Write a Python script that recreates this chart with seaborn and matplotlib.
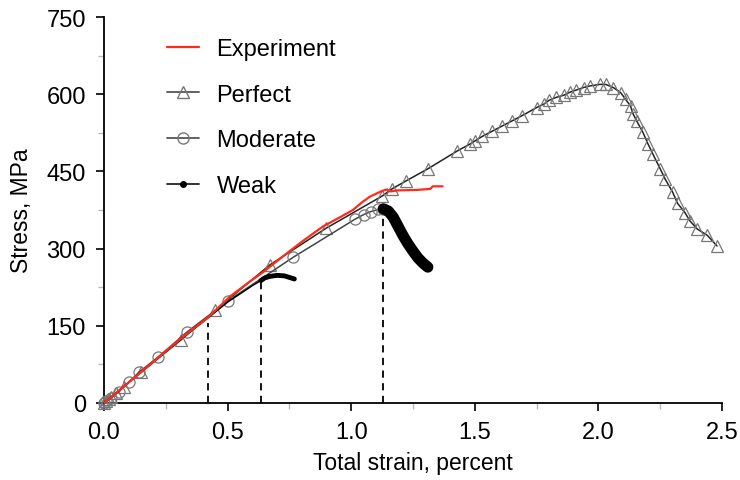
import matplotlib
matplotlib.use('Agg')
import matplotlib.pyplot as plt
import seaborn as sns
from matplotlib.ticker import MultipleLocator, FormatStrFormatter
from matplotlib.lines import Line2D

# experiment (red)
exp_x = [0, 0.05, 0.1, 0.2, 0.3, 0.42, 0.51, 0.59, 0.643, 0.724, 0.805, 0.886, 0.955, 1.007,
         1.044, 1.076, 1.125, 1.145, 1.157, 1.185, 1.266, 1.32, 1.33, 1.37]
exp_y = [0, 20, 40, 80, 121, 166, 207, 236, 254, 285, 315, 343, 361, 375,
         390, 401, 412, 415, 411, 413, 414, 416, 421, 421]

# perfect bonding (triangles)
perf_x = [0, 0.01, 0.02, 0.03, 0.05, 0.08, 0.15, 0.31, 0.45, 0.67, 0.9, 1.125, 1.165, 1.22,
          1.31, 1.43, 1.48, 1.50, 1.53, 1.57, 1.61, 1.65, 1.69, 1.75, 1.78, 1.80, 1.83, 1.86,
          1.885, 1.91, 1.94, 1.965, 2.005, 2.03, 2.06, 2.09, 2.11, 2.13, 2.14, 2.155, 2.18,
          2.20, 2.22, 2.25, 2.27, 2.30, 2.32, 2.35, 2.37, 2.40, 2.44, 2.48]
perf_y = [0, 4, 8, 12, 20, 32, 60, 122, 180, 268, 340, 402, 416, 431,
          455, 490, 503, 509, 518, 528, 538, 548, 558, 574, 581, 588, 594, 598,
          604, 608, 613, 616, 619, 619, 613, 603, 590, 577, 562, 548, 526,
          504, 484, 455, 435, 410, 388, 370, 354, 338, 326, 305]

# moderate bonding (circles)
mod_x = [0, 0.01, 0.03, 0.06, 0.1, 0.142, 0.218, 0.336, 0.50, 0.765, 1.015, 1.05, 1.08, 1.11, 1.13]
mod_y = [0, 3, 10, 22, 40, 60, 89, 138, 198, 283, 357, 366, 372, 376, 377]
mod_drop_x = [1.13, 1.15, 1.17, 1.19, 1.21, 1.23, 1.25, 1.27, 1.29, 1.31]
mod_drop_y = [377, 373, 361, 343, 325, 309, 295, 282, 272, 264]

# weak bonding
weak_x = [0, 0.02, 0.05, 0.1, 0.2, 0.3, 0.42, 0.5, 0.6, 0.635]
weak_y = [0, 8, 20, 40, 80, 120, 165, 196, 228, 238]
weak_drop_x = [0.635, 0.65, 0.67, 0.70, 0.73, 0.75, 0.77]
weak_drop_y = [238, 243, 246, 248, 247, 244, 241]

# damage onset markers
onset_x = [0.42, 0.635, 1.13]
onset_top = [155, 235, 372]

sns.set_style('ticks')
plt.rcParams['font.family'] = ['Liberation Sans', 'DejaVu Sans']
plt.rcParams['font.size'] = 17
plt.rcParams['text.color'] = 'black'
plt.rcParams['axes.labelcolor'] = 'black'
plt.rcParams['xtick.color'] = 'black'
plt.rcParams['ytick.color'] = 'black'

fig = plt.figure(figsize=(7.4, 4.81), dpi=100)
ax = fig.add_axes([104 / 740, 1 - 404 / 481, (722 - 104) / 740, (404 - 18) / 481])

ax.vlines(onset_x, 0, onset_top, colors='black', linestyles=(0, (4, 3)), lw=1.3, zorder=1)

sns.lineplot(x=perf_x, y=perf_y, sort=False, estimator=None, color='#222222', lw=1.1,
             marker='^', ms=8, mfc='none', mec='#777777', mew=0.9, ax=ax, clip_on=False, zorder=3)
sns.lineplot(x=mod_x, y=mod_y, sort=False, estimator=None, color='#444444', lw=1.1,
             marker='o', ms=8, mfc='none', mec='#777777', mew=0.9, ax=ax, clip_on=False, zorder=3)
sns.lineplot(x=mod_drop_x, y=mod_drop_y, sort=False, estimator=None, color='black', lw=8,
             solid_capstyle='round', ax=ax, zorder=3)
sns.lineplot(x=weak_x, y=weak_y, sort=False, estimator=None, color='black', lw=1.1,
             ax=ax, zorder=4)
sns.lineplot(x=weak_drop_x, y=weak_drop_y, sort=False, estimator=None, color='black', lw=3.5,
             solid_capstyle='round', ax=ax, zorder=4)
sns.lineplot(x=exp_x, y=exp_y, sort=False, estimator=None, color='#ff2a1a', lw=1.6, ax=ax, zorder=5)

ax.set_xlim(0, 2.5)
ax.set_ylim(0, 750)
ax.xaxis.set_major_locator(MultipleLocator(0.5))
ax.xaxis.set_minor_locator(MultipleLocator(0.25))
ax.yaxis.set_major_locator(MultipleLocator(150))
ax.yaxis.set_minor_locator(MultipleLocator(75))
ax.xaxis.set_major_formatter(FormatStrFormatter('%.1f'))
ax.tick_params(which='major', direction='out', length=6, width=1.2, color='black',
               labelcolor='black', labelsize=17, pad=7)
ax.tick_params(which='minor', direction='out', length=4, width=1, color='#bbbbbb')
for s in ['left', 'bottom']:
    ax.spines[s].set_linewidth(1.3)
    ax.spines[s].set_color('black')
sns.despine(ax=ax)

ax.set_xlabel('Total strain, percent', fontsize=16.5, labelpad=6)
ax.set_ylabel('Stress, MPa', fontsize=16.5, labelpad=10)

handles = [
    Line2D([], [], color='#ff2a1a', lw=1.6),
    Line2D([], [], color='#555555', lw=1.3, marker='^', ms=8, mfc='none', mec='#777777'),
    Line2D([], [], color='#555555', lw=1.3, marker='o', ms=8, mfc='none', mec='#777777'),
    Line2D([], [], color='#222222', lw=1.3, marker='o', ms=4, mfc='black', mec='black'),
]
labels = ['Experiment', 'Perfect', 'Moderate', 'Weak']
ax.legend(handles, labels, loc='upper left', bbox_to_anchor=(167 / 740, 1 - 39 / 481),
          bbox_transform=fig.transFigure, frameon=False, fontsize=17, borderpad=0,
          borderaxespad=0, handlelength=1.35, handletextpad=0.75, labelspacing=1.0)

fig.savefig('out.png', dpi=100)
